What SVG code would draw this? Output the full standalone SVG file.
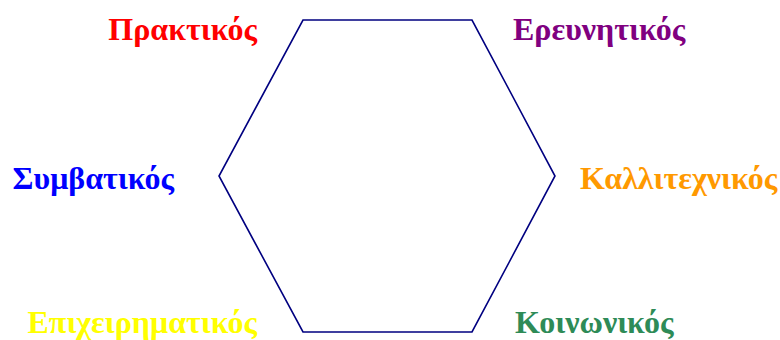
<svg xmlns="http://www.w3.org/2000/svg" width="780" height="340" viewBox="0 0 780 340">
<style>
.lbl{font-family:"Liberation Serif","Times New Roman",serif;font-weight:bold;font-size:32px}
.hex{fill:none;stroke:#000080;stroke-width:1.6}
</style>
<rect width="780" height="340" fill="#fff"/>
<g id="connectors">
<polygon class="hex" points="303,20 472,20 555,176 472,332 303,332 219,176"/>
</g>
<g id="n-praktikos"><text class="lbl" x="257" y="40" text-anchor="end" fill="#FF0000">Πρακτικός</text></g>
<g id="n-ereunitikos"><text class="lbl" x="513" y="40" fill="#800080">Ερευνητικός</text></g>
<g id="n-symvatikos"><text class="lbl" x="174" y="189" text-anchor="end" fill="#0000FF">Συμβατικός</text></g>
<g id="n-kallitexnikos"><text class="lbl" x="580" y="189" fill="#FF9900">Καλλιτεχνικός</text></g>
<g id="n-epixeirimatikos"><text class="lbl" x="257" y="333" text-anchor="end" fill="#FFFF00">Επιχειρηματικός</text></g>
<g id="n-koinonikos"><text class="lbl" x="515" y="333" fill="#2E8B57">Κοινωνικός</text></g>
</svg>
